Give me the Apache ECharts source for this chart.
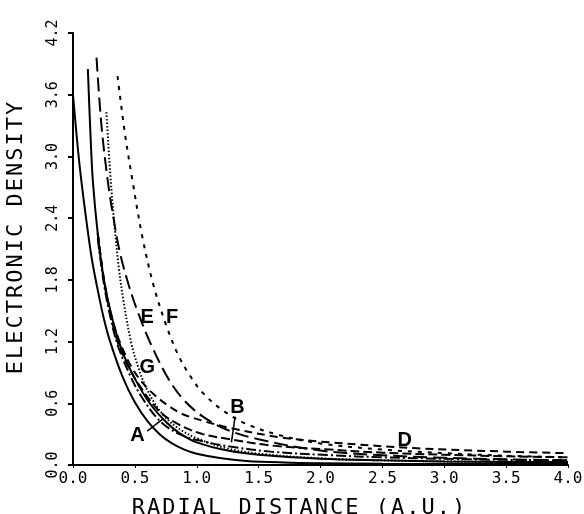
<!DOCTYPE html>
<html>
<head>
<meta charset="utf-8">
<script src="https://cdn.jsdelivr.net/npm/echarts@6/dist/echarts.min.js"></script>
<style>
  html, body { margin: 0; padding: 0; background: #fff; }
  #chart { width: 584px; height: 514px; }
</style>
</head>
<body>
<div id="chart"></div>
<script>
// values (x = radial distance, y = electronic density)
const xTicks = [0, 0.5, 1.0, 1.5, 2.0, 2.5, 3.0, 3.5, 4.0];
const yTicks = [0, 0.6, 1.2, 1.8, 2.4, 3.0, 3.6, 4.2];

// lowest solid curve
const xS1 = [0, 0.05, 0.1, 0.15, 0.2, 0.25, 0.3, 0.4, 0.5, 0.6, 0.7, 0.8, 0.9, 1.0, 1.2, 1.4, 1.7, 2.0, 2.5, 3.0, 3.5, 4.0];
const yS1 = [3.6, 2.95, 2.45, 2.02, 1.7, 1.42, 1.2, 0.86, 0.61, 0.43, 0.3, 0.21, 0.15, 0.11, 0.065, 0.04, 0.025, 0.018, 0.012, 0.01, 0.01, 0.01];
// second solid curve
const xS2 = [0.12, 0.14, 0.16, 0.2, 0.25, 0.32, 0.4, 0.5, 0.62, 0.75, 0.86, 1.0, 1.25, 1.5, 2.0, 2.5, 3.0, 3.5, 4.0];
const yS2 = [3.85, 3.25, 2.77, 2.25, 1.8, 1.41, 1.1, 0.84, 0.6, 0.42, 0.31, 0.22, 0.14, 0.1, 0.06, 0.045, 0.035, 0.03, 0.03];
// A dash-dot
const xA = [0.2, 0.25, 0.3, 0.36, 0.45, 0.55, 0.7, 0.86, 1.05, 1.27, 1.6, 2.08, 2.5, 3.0, 3.5, 4.0];
const yA = [2.2, 1.76, 1.45, 1.17, 0.9, 0.67, 0.43, 0.3, 0.23, 0.18, 0.13, 0.095, 0.075, 0.06, 0.05, 0.045];
// B dashed
const xB = [0.2, 0.25, 0.3, 0.36, 0.45, 0.55, 0.7, 0.86, 1.05, 1.27, 1.6, 2.08, 2.5, 3.0, 3.5, 4.0];
const yB = [2.25, 1.8, 1.48, 1.2, 0.95, 0.75, 0.52, 0.39, 0.3, 0.25, 0.19, 0.15, 0.12, 0.1, 0.085, 0.075];
// D dashed (flattest)
const xD = [0.2, 0.25, 0.3, 0.38, 0.5, 0.65, 0.86, 1.05, 1.27, 1.67, 2.08, 2.75, 3.5, 4.0];
const yD = [2.25, 1.8, 1.5, 1.19, 0.9, 0.69, 0.51, 0.43, 0.36, 0.27, 0.22, 0.165, 0.13, 0.115];
// E long dash
const xE = [0.19, 0.23, 0.28, 0.33, 0.38, 0.45, 0.52, 0.62, 0.76, 0.89, 1.05, 1.25, 1.5, 2.0, 2.5, 3.0, 3.5, 4.0];
const yE = [3.96, 3.3, 2.77, 2.38, 2.06, 1.75, 1.5, 1.2, 0.86, 0.64, 0.47, 0.34, 0.25, 0.14, 0.095, 0.07, 0.055, 0.045];
// F short dash
const xF = [0.36, 0.42, 0.48, 0.56, 0.65, 0.75, 0.85, 0.95, 1.05, 1.2, 1.4, 1.67, 2.0, 2.5, 3.0, 3.5, 4.0];
const yF = [3.78, 3.22, 2.77, 2.22, 1.75, 1.37, 1.07, 0.86, 0.7, 0.54, 0.4, 0.29, 0.21, 0.15, 0.115, 0.09, 0.075];
// G dotted
const xG = [0.27, 0.3, 0.33, 0.37, 0.41, 0.47, 0.53, 0.58, 0.66, 0.75, 0.86, 1.0, 1.25, 1.5, 2.0, 2.5, 3.0, 3.5, 4.0];
const yG = [3.43, 2.85, 2.4, 1.92, 1.58, 1.19, 0.94, 0.78, 0.6, 0.46, 0.35, 0.26, 0.16, 0.11, 0.065, 0.045, 0.035, 0.03, 0.03];

// curve letters and where they sit
const labelNames = ['A', 'B', 'D', 'E', 'F', 'G'];
const labelX = [0.52, 1.33, 2.68, 0.6, 0.8, 0.6];
const labelY = [0.29, 0.56, 0.24, 1.43, 1.43, 0.95];

// leader lines from A and B to their curves
const leaderA = [[0.6, 0.33], [0.73, 0.45]];
const leaderB = [[1.31, 0.47], [1.28, 0.22]];

// the plotter lettering of the axis titles is widely spaced
const fillTextOrig = CanvasRenderingContext2D.prototype.fillText;
CanvasRenderingContext2D.prototype.fillText = function (t, x, y, w) {
  this.letterSpacing = this.font.indexOf('22px') >= 0 ? '2px' : '0px';
  return fillTextOrig.call(this, t, x, y, w);
};

function pairs(xs, ys) {
  return xs.map((x, i) => [x, ys[i]]);
}

function curve(name, xs, ys, dash) {
  return {
    name: name,
    type: 'line',
    data: pairs(xs, ys),
    showSymbol: false,
    smooth: 0.35,
    lineStyle: { color: '#000', width: 2, type: dash },
    z: 3
  };
}

const mono = 'DejaVu Sans Mono';

let chart = echarts.init(document.getElementById('chart'));
chart.setOption({
  animation: false,
  backgroundColor: '#fff',
  grid: { left: 73, right: 16, top: 33, bottom: 49, outerBoundsMode: 'none' },
  xAxis: {
    type: 'value',
    min: 0,
    max: 4,
    interval: 0.5,
    name: 'RADIAL DISTANCE (A.U.)',
    nameLocation: 'middle',
    nameGap: 32,
    nameTextStyle: { fontFamily: mono, fontSize: 22, color: '#000', padding: [0, 42, 0, 0] },
    axisLine: { lineStyle: { color: '#000', width: 2 } },
    axisTick: { show: true, length: 3, lineStyle: { color: '#000' } },
    axisLabel: {
      fontFamily: mono, fontSize: 16, color: '#000', margin: 6,
      formatter: v => v.toFixed(1)
    },
    splitLine: { show: false }
  },
  yAxis: {
    type: 'value',
    min: 0,
    max: 4.2,
    interval: 0.6,
    name: 'ELECTRONIC DENSITY',
    nameLocation: 'middle',
    nameGap: 46,
    nameTextStyle: { fontFamily: mono, fontSize: 22, color: '#000', padding: [0, 0, 0, 24] },
    axisLine: { show: true, lineStyle: { color: '#000', width: 2 } },
    axisTick: { show: true, length: 5, lineStyle: { color: '#000', width: 2 } },
    axisLabel: {
      fontFamily: mono, fontSize: 15, color: '#000', rotate: 90, margin: 12,
      formatter: v => v.toFixed(1)
    },
    splitLine: { show: false }
  },
  series: [
    curve('solid1', xS1, yS1, 'solid'),
    curve('solid2', xS2, yS2, 'solid'),
    curve('A', xA, yA, [10, 3, 2, 3]),
    curve('B', xB, yB, [9, 4]),
    curve('D', xD, yD, [8, 5]),
    curve('E', xE, yE, [14, 6]),
    curve('F', xF, yF, [4, 6]),
    curve('G', xG, yG, [1.5, 2]),
    {
      type: 'line', data: leaderA, showSymbol: false,
      lineStyle: { color: '#000', width: 1.5 }
    },
    {
      type: 'line', data: leaderB, showSymbol: false,
      lineStyle: { color: '#000', width: 1.5 }
    },
    {
      type: 'scatter',
      symbolSize: 0,
      itemStyle: { opacity: 1, color: '#000' },
      emphasis: { disabled: true },
      data: labelNames.map((n, i) => ({ name: n, value: [labelX[i], labelY[i]] })),
      label: {
        show: true,
        position: 'inside',
        formatter: p => p.name,
        fontFamily: 'Liberation Sans',
        fontWeight: 'bold',
        fontSize: 20,
        color: '#000',
        opacity: 1,
        textBorderWidth: 0
      },
      z: 5
    }
  ]
});
</script>
</body>
</html>
